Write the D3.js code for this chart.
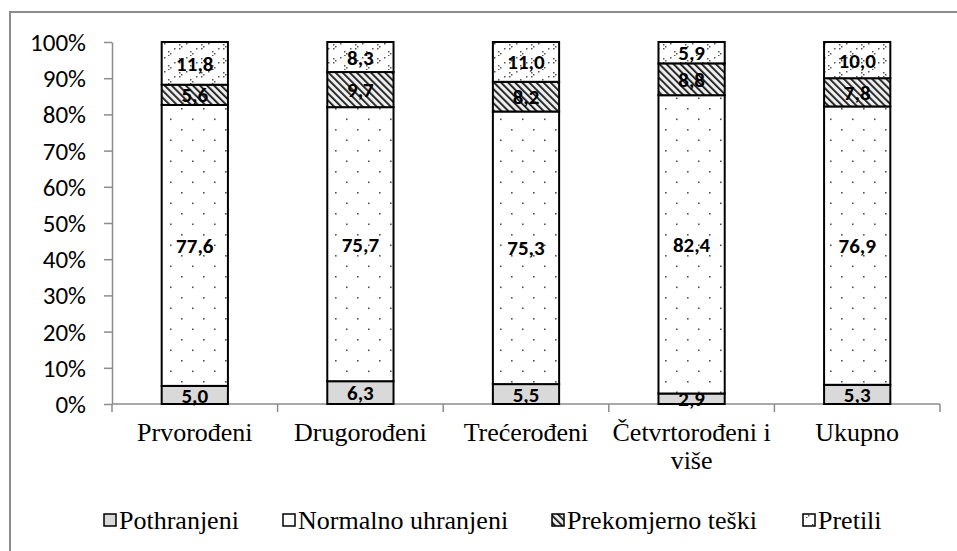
<!DOCTYPE html>
<html><head><meta charset="utf-8">
<script src="https://cdn.jsdelivr.net/npm/d3@7"></script>
<style>body{margin:0;background:#fff}svg{display:block}
.serif{font-family:"Liberation Serif","Times New Roman",Tinos,"DejaVu Serif",serif}
.sans{font-family:Carlito,Lato,"Open Sans",sans-serif}</style>
</head><body><svg id="c" width="957" height="551"></svg>
<script>
const categories = ["Prvorođeni","Drugorođeni","Trećerođeni","Četvrtorođeni i više","Ukupno"];
const seriesNames = ["Pothranjeni","Normalno uhranjeni","Prekomjerno teški","Pretili"];
const pothranjeni = [5.0, 6.3, 5.5, 2.9, 5.3];
const normalno = [77.6, 75.7, 75.3, 82.4, 76.9];
const prekomjerno = [5.6, 9.7, 8.2, 8.8, 7.8];
const pretili = [11.8, 8.3, 11.0, 5.9, 10.0];
const yTicks = [0,10,20,30,40,50,60,70,80,90,100];

const svg = d3.select("#c");
const defs = svg.append("defs");
// patterns
const p0 = defs.append("pattern").attr("id","pat0").attr("patternUnits","userSpaceOnUse").attr("width",8).attr("height",8);
p0.append("rect").attr("width",8).attr("height",8).attr("fill","#d9d9d9");
const p1 = defs.append("pattern").attr("id","pat1").attr("patternUnits","userSpaceOnUse").attr("width",22).attr("height",21);
p1.append("rect").attr("width",22).attr("height",21).attr("fill","#fff");
p1.append("rect").attr("x",5).attr("y",3).attr("width",1.6).attr("height",1.6).attr("fill","#555");
p1.append("rect").attr("x",16).attr("y",13.5).attr("width",1.6).attr("height",1.6).attr("fill","#555");
const p2 = defs.append("pattern").attr("id","pat2").attr("patternUnits","userSpaceOnUse").attr("width",5).attr("height",5).attr("patternTransform","rotate(-45)");
p2.append("rect").attr("width",5).attr("height",5).attr("fill","#eeeeee");
p2.append("rect").attr("x",0).attr("y",0).attr("width",1.8).attr("height",5).attr("fill","#1a1a1a");
const p3 = defs.append("pattern").attr("id","pat3").attr("patternUnits","userSpaceOnUse").attr("width",22).attr("height",14);
p3.append("rect").attr("width",22).attr("height",14).attr("fill","#fff");
[[3,2],[5,4],[3,6],[14,9],[16,11],[14,13],[10,1],[20,6]].forEach(d=>{
  p3.append("rect").attr("x",d[0]).attr("y",d[1]).attr("width",1.5).attr("height",1.5).attr("fill","#555");
});
const fills = ["url(#pat0)","url(#pat1)","url(#pat2)","url(#pat3)"];

// outer border
svg.append("rect").attr("x",10).attr("y",12).attr("width",960).attr("height",560)
  .attr("fill","none").attr("stroke","#8c8c8c").attr("stroke-width",2);

const x = d3.scaleBand().domain(categories).range([112,940]).paddingInner(0.6).paddingOuter(0.3);
const y = d3.scaleLinear().domain([0,100]).range([404,42]);

// y axis
const ya = svg.append("g").attr("transform","translate(112,0)")
  .call(d3.axisLeft(y).tickValues(yTicks).tickFormat(d=>d+"%").tickSize(8).tickSizeOuter(0));
ya.attr("font-family",null).attr("font-size",null);
ya.select(".domain").attr("stroke","#8c8c8c").attr("stroke-width",1.5);
ya.selectAll(".tick line").attr("stroke","#8c8c8c").attr("stroke-width",1.5);
ya.selectAll(".tick text").attr("class","sans").style("font-size","25px").attr("fill","#000").attr("x",-26).attr("dy","0.34em");

// x axis line and ticks
const xb = d3.scaleLinear().domain([0,5]).range([112,940]);
svg.append("line").attr("x1",112).attr("x2",940).attr("y1",y(0)).attr("y2",y(0)).attr("stroke","#8c8c8c").attr("stroke-width",1.5);
svg.selectAll(".xt").data(d3.range(0,6)).enter().append("line")
  .attr("x1",d=>xb(d)).attr("x2",d=>xb(d)).attr("y1",y(0)).attr("y2",y(0)+8)
  .attr("stroke","#8c8c8c").attr("stroke-width",1.5);

// stacked data
const seriesArr = [pothranjeni, normalno, prekomjerno, pretili];
const rows = categories.map((c,i)=>{const o={cat:c}; seriesNames.forEach((s,j)=>o[s]=seriesArr[j][i]); return o;});
const stack = d3.stack().keys(seriesNames)(rows);

stack.forEach((layer,j)=>{
  const g = svg.append("g");
  g.selectAll("rect").data(layer).enter().append("rect")
    .attr("x",d=>x(d.data.cat)).attr("width",x.bandwidth())
    .attr("y",d=>y(d[1])).attr("height",d=>y(d[0])-y(d[1]))
    .attr("fill",fills[j]).attr("stroke","#000").attr("stroke-width",2);
});
stack.forEach((layer,j)=>{
  svg.append("g").selectAll("text").data(layer).enter().append("text")
    .attr("class","sans")
    .attr("x",d=>x(d.data.cat)+x.bandwidth()/2)
    .attr("y",d=>(y(d[0])+y(d[1]))/2)
    .attr("dy","0.36em").attr("text-anchor","middle")
    .style("font-weight","bold").style("font-size","21px")
    .text(d=>d3.format(".1f")(d[1]-d[0]).replace(".",","));
});

// category labels
const catG = svg.append("g");
categories.forEach(c=>{
  const t = catG.append("text").attr("class","serif").attr("x",x(c)+x.bandwidth()/2).attr("y",441)
    .attr("text-anchor","middle").style("font-size","26px").attr("fill","#000");
  if (c === "Četvrtorođeni i više") {
    t.append("tspan").attr("x",x(c)+x.bandwidth()/2).text("Četvrtorođeni i");
    t.append("tspan").attr("x",x(c)+x.bandwidth()/2).attr("dy",28).text("više");
  } else t.text(c);
});

// legend
const legX = [104, 283, 552, 803];
const lg = svg.append("g");
seriesNames.forEach((s,j)=>{
  lg.append("rect").attr("x",legX[j]).attr("y",514).attr("width",12).attr("height",12)
    .attr("fill",fills[j]).attr("stroke","#000").attr("stroke-width",1.5);
  lg.append("text").attr("class","serif").attr("x",legX[j]+15).attr("y",529).style("font-size","26px").text(s);
});
</script></body></html>
